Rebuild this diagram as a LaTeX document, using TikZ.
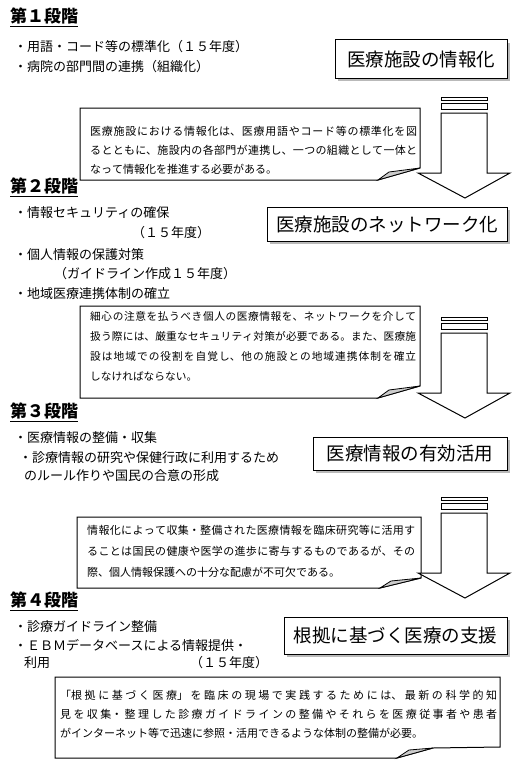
\documentclass[tikz,border=0pt]{standalone}
\usepackage{fontspec}
\setmainfont{Noto Sans CJK JP}
\XeTeXlinebreaklocale "ja"
\XeTeXlinebreakskip=0pt plus 1fil
\usetikzlibrary{shadows}

\begin{document}
\begin{tikzpicture}[x=1pt, y=-1pt,
  stagetitle/.style={anchor=west, inner sep=0pt, font=\fontsize{17}{17}\selectfont\bfseries},
  item/.style={anchor=west, inner sep=0pt, font=\fontsize{13}{13}\selectfont},
  titlebox/.style={draw, line width=1pt, fill=white, inner sep=0pt, font=\fontsize{18.5}{18.5}\selectfont,
    drop shadow={shadow xshift=3pt, shadow yshift=-3pt, fill=gray!55, opacity=1}},
  memo/.style={anchor=north west, inner sep=0pt, align=justify, font=\fontsize{11}{20}\selectfont,
    execute at begin node={\parfillskip=0pt plus 1fill\relax}},
  memoline/.style={line width=1pt, fill=white},
  flap/.style={line width=0.8pt, fill=gray!40},
  blockarrow/.style={line width=1pt, fill=white}]
\useasboundingbox (0,0) rectangle (525,760);
\fill[white] (0,0) rectangle (525,760);

% Memo frames with folded corner
\draw[memoline] (80,108) -- (420,108) -- (420,168) -- (378,180) -- (80,180) -- cycle;
\draw[flap] (378,180) -- (389,172) -- (420,168) -- cycle;
\draw[memoline] (80,306) -- (420,306) -- (420,386) -- (378,398) -- (80,398) -- cycle;
\draw[flap] (378,398) -- (389,390) -- (420,386) -- cycle;
\draw[memoline] (77,517) -- (421,517) -- (421,578) -- (380,588) -- (77,588) -- cycle;
\draw[flap] (380,588) -- (391,581) -- (421,578) -- cycle;
\draw[memoline] (55,677) -- (500,677) -- (500,747) -- (433,748) -- (397,758) -- (55,758) -- cycle;
\draw[flap] (397,758) -- (409,750) -- (433,748) -- cycle;

% Memo texts
\node[memo, text width=327pt, font=\fontsize{11}{19}\selectfont] (memo1) at (90,126.5)
  {医療施設における情報化は、医療用語やコード等の標準化を図\linebreak
   るとともに、施設内の各部門が連携し、一つの組織として一体と\linebreak
   なって情報化を推進する必要がある。};
\node[memo, text width=326pt, font=\fontsize{10.7}{20}\selectfont] (memo2) at (90,311.5)
  {細心の注意を払うべき個人の医療情報を、ネットワークを介して\linebreak
   扱う際には、厳重なセキュリティ対策が必要である。また、医療施\linebreak
   設は地域での役割を自覚し、他の施設との地域連携体制を確立\linebreak
   しなければならない。};
\node[memo, text width=328pt, font=\fontsize{11}{21}\selectfont] (memo3) at (87,524.5)
  {情報化によって収集・整備された医療情報を臨床研究等に活用す\linebreak
   ることは国民の健康や医学の進歩に寄与するものであるが、その\linebreak
   際、個人情報保護への十分な配慮が不可欠である。};
\node[memo, text width=437pt, font=\fontsize{11}{19}\selectfont] (memo4) at (60,689.5)
  {「根拠に基づく医療」を臨床の現場で実践するためには、最新の科学的知\linebreak
   見を収集・整理した診療ガイドラインの整備やそれらを医療従事者や患者\linebreak
   がインターネット等で迅速に参照・活用できるような体制の整備が必要。};

% Block arrows
\foreach \dy in {0,220,400} {
  \begin{scope}[shift={(0,\dy)}]
    \draw[blockarrow] (441,97) rectangle (487,100);
    \draw[blockarrow] (441,103) rectangle (487,109);
    \draw[blockarrow] (441,113) -- (487,113) -- (487,173) -- (510,173) -- (465,198)
      -- (418,173) -- (441,173) -- cycle;
  \end{scope}
}

% Title boxes
\node[titlebox, minimum width=172pt, minimum height=38pt] (box1) at (421,59) {医療施設の情報化};
\node[titlebox, minimum width=240pt, minimum height=34pt] (box2) at (387,224) {医療施設のネットワーク化};
\node[titlebox, minimum width=194pt, minimum height=33pt] (box3) at (410,453.5) {医療情報の有効活用};
\node[titlebox, minimum width=223pt, minimum height=37pt] (box4) at (395.5,635.5) {根拠に基づく医療の支援};

% Stage titles
\node[stagetitle] (stage1) at (10,16) {第１段階};
\node[stagetitle] (stage2) at (10,186) {第２段階};
\node[stagetitle] (stage3) at (10,411) {第３段階};
\node[stagetitle] (stage4) at (10,600) {第４段階};
\foreach \s in {stage1,stage2,stage3,stage4}
  \draw[line width=1.2pt] ([yshift=-2pt]\s.south west) -- ([yshift=-2pt]\s.south east);

% Stage 1 items
\node[item] (item11) at (14,47) {・用語・コード等の標準化（１５年度）};
\node[item] (item12) at (14,67) {・病院の部門間の連携（組織化）};

% Stage 2 items
\node[item] (item21) at (14,213) {・情報セキュリティの確保};
\node[item] (item22) at (132,233) {（１５年度）};
\node[item] (item23) at (14,255) {・個人情報の保護対策};
\node[item] (item24) at (54,274) {（ガイドライン作成１５年度）};
\node[item] (item25) at (14,294) {・地域医療連携体制の確立};

% Stage 3 items
\node[item] (item31) at (14,438) {・医療情報の整備・収集};
\node[item] (item32) at (19,458) {・診療情報の研究や保健行政に利用するため};
\node[item] (item33) at (24,476) {のルール作りや国民の合意の形成};

% Stage 4 items
\node[item] (item41) at (14,627) {・診療ガイドライン整備};
\node[item] (item42) at (14,645) {・ＥＢＭデータベースによる情報提供・};
\node[item] (item43) at (24,663) {利用};
\node[item] (item44) at (190,663) {（１５年度）};
\end{tikzpicture}
\end{document}
